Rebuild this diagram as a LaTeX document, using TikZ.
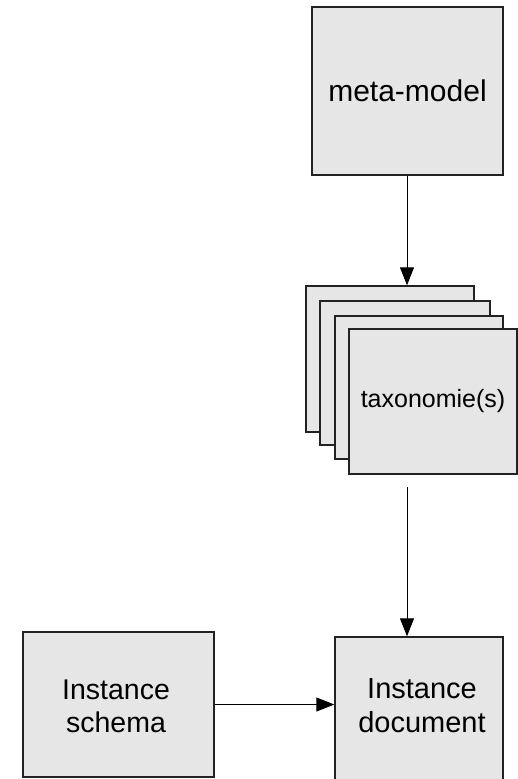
\documentclass[tikz,border=0pt]{standalone}
\usepackage{fontspec}
\setmainfont{Liberation Sans}
\usetikzlibrary{arrows.meta}
\definecolor{boxfill}{HTML}{E6E6E6}
\definecolor{boxline}{HTML}{222222}
\tikzset{
  box/.style={draw=boxline, line width=1.4pt, fill=boxfill, inner sep=0pt, align=center, text=black},
  conn/.style={draw=black, line width=1pt, -{Triangle[length=18pt,width=14pt]}}
}
\begin{document}
\begin{tikzpicture}[x=1pt,y=-1pt]
\useasboundingbox (0,0) rectangle (518,779);
\clip (0,0) rectangle (518,779);
\fill[white] (0,0) rectangle (518,779);
\node[box, minimum width=191pt, minimum height=168pt, font=\fontsize{30}{34}\selectfont] (meta) at (407.5,91) {meta-model};
\node[box, minimum width=168pt, minimum height=146pt] (tax1) at (390,359) {};
\node[box, minimum width=170pt, minimum height=144pt] (tax2) at (405,373) {};
\node[box, minimum width=168pt, minimum height=143pt] (tax3) at (419,387.5) {};
\node[box, minimum width=168pt, minimum height=145pt, font=\fontsize{25}{29}\selectfont] (tax) at (433,401.5) {taxonomie(s)};
\node[box, minimum width=191pt, minimum height=145pt] (schema) at (118.5,704.5) {};
\node[font=\fontsize{28.5}{33}\selectfont, align=center, inner sep=0pt] (schematext) at (116,706) {Instance\\schema};
\node[box, minimum width=168pt, minimum height=160pt] (doc) at (419,717) {};
\node[font=\fontsize{29}{34}\selectfont, align=center, inner sep=0pt] (doctext) at (422,706) {Instance\\document};
\coordinate (taxout) at (407,487);
\draw[conn] (meta.south -| taxout) -- (taxout |- tax1.north);
\draw[conn] (taxout) -- (taxout |- doc.north);
\draw[conn] (schema.east) -- (schema.east -| doc.west);
\end{tikzpicture}
\end{document}
